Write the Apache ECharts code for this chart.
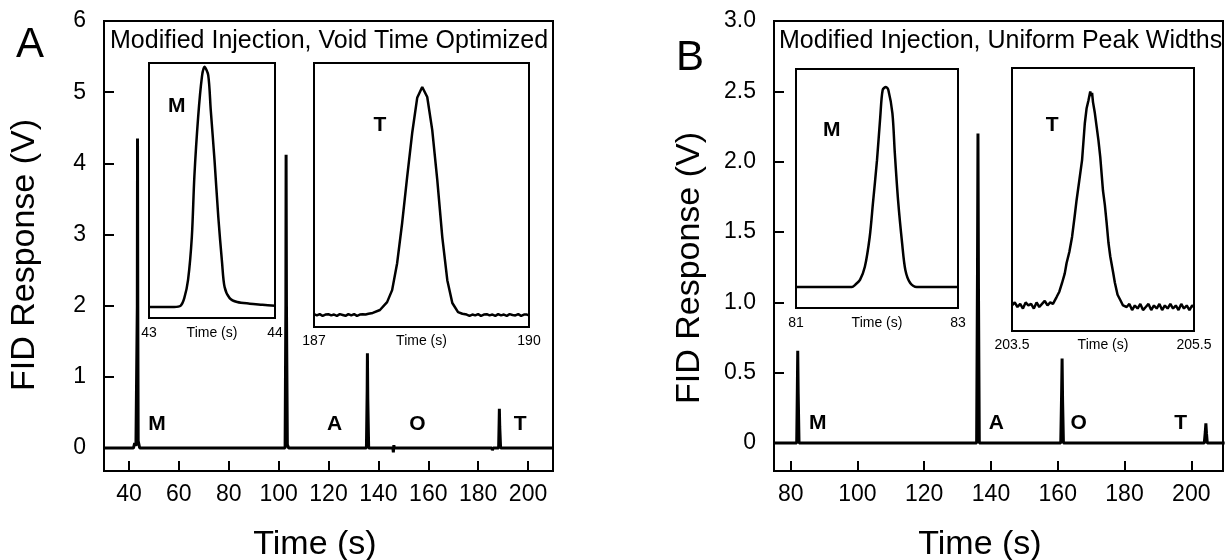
<!DOCTYPE html>
<html>
<head>
<meta charset="utf-8">
<script src="https://cdn.jsdelivr.net/npm/echarts@6/dist/echarts.min.js"></script>
<style>html,body{margin:0;padding:0;background:#fff}#c{width:1225px;height:560px}</style>
</head>
<body>
<div id="c"></div>
<script>
// ---------- Data (time in s, FID response in V) ----------
const aXTicks = [40, 60, 80, 100, 120, 140, 160, 180, 200];
const aYTicks = [0, 1, 2, 3, 4, 5, 6];
const bXTicks = [80, 100, 120, 140, 160, 180, 200];
const bYTicks = [0, 0.5, 1.0, 1.5, 2.0, 2.5, 3.0];

// Panel A main chromatogram
const aMain = [[30,0],[41.8,0],[42.3,0.07],[42.8,0.03],[43.2,0.05],[43.35,2.0],[43.44,4.35],[43.55,2.0],[43.7,0.1],[44.3,0],
  [102.6,0],[102.9,2.0],[103.0,4.12],[103.15,2.0],[103.5,0.05],[104,0],
  [135.2,0],[135.5,0.8],[135.6,1.33],[135.75,0.7],[136.1,0],
  [145.8,0],[146.0,-0.06],[146.2,0.04],[146.4,0],
  [185.5,0],[185.7,-0.03],[186,0],
  [188.2,0],[188.4,0.35],[188.5,0.55],[188.65,0.3],[189,0],[210,0]];
const aPeakLabels = [[51.2,0.34,'M'],[122.4,0.34,'A'],[155.6,0.34,'O'],[196.8,0.34,'T']];

// Panel A insets
const aInsetM = [[43.00,0.00],[43.10,0.00],[43.20,0.00],[43.25,0.02],[43.28,0.16],[43.31,0.49],[43.34,1.27],[43.36,2.36],[43.39,3.44],[43.42,4.17],[43.44,4.35],[43.47,4.20],[43.49,3.57],[43.52,2.66],[43.55,1.63],[43.58,0.80],[43.60,0.36],[43.64,0.16],[43.70,0.09],[43.80,0.06],[43.90,0.04],[44.00,0.02]];
const aInsetT = [[187.00,0.002],[187.04,-0.001],[187.08,0.002],[187.12,-0.002],[187.16,0.001],[187.20,0.002],[187.24,-0.001],[187.28,0.001],[187.32,-0.002],[187.36,0.002],[187.40,0.000],[187.44,-0.002],[187.48,0.002],[187.52,-0.001],[187.56,0.002],[187.60,-0.002],[187.64,0.001],[187.68,0.002],[187.72,0.001],[187.76,0.003],
  [187.82,0.005],[187.92,0.012],[188.02,0.031],[188.09,0.060],[188.16,0.125],[188.23,0.222],[188.30,0.333],[188.37,0.439],[188.44,0.524],[188.51,0.550],[188.58,0.526],[188.65,0.446],[188.72,0.326],[188.79,0.188],[188.86,0.084],[188.93,0.029],[189.01,0.007],[189.07,0.003],
  [189.13,0.001],[189.17,-0.002],[189.21,0.001],[189.25,-0.001],[189.29,0.002],[189.33,-0.002],[189.37,0.001],[189.41,0.002],[189.45,-0.001],[189.49,0.001],[189.53,-0.002],[189.57,0.002],[189.61,-0.001],[189.65,0.001],[189.69,-0.002],[189.73,0.002],[189.77,0.000],[189.81,-0.001],[189.85,0.002],[189.89,-0.002],[189.93,0.001],[189.97,0.001],[190.00,-0.001]];
const aInsetMLabel = [[43.22,3.63,'M']];
const aInsetTLabel = [[187.92,0.458,'T']];

// Panel B main chromatogram
const bMain = [[75,0],[81.8,0],[82.0,0.4],[82.11,0.655],[82.25,0.35],[82.5,0],
  [135.7,0],[135.95,1.2],[136.1,2.2],[136.25,1.1],[136.5,0],
  [160.9,0],[161.15,0.35],[161.3,0.6],[161.45,0.3],[161.7,0],
  [203.9,0],[204.2,0.08],[204.37,0.14],[204.55,0.07],[204.8,0],[210,0]];
const bPeakLabels = [[88.1,0.14,'M'],[141.6,0.14,'A'],[166.3,0.14,'O'],[196.8,0.14,'T']];

// Panel B insets
const bInsetM = [[81.00,0],[81.40,0],[81.69,0],[81.73,0.007],[81.79,0.023],[81.85,0.066],[81.91,0.164],[81.95,0.275],[82.00,0.416],[82.04,0.557],[82.07,0.646],[82.11,0.656],[82.14,0.646],[82.19,0.570],[82.22,0.439],[82.26,0.285],[82.31,0.144],[82.35,0.056],[82.41,0.013],[82.49,0],[82.70,0],[83.00,0]];
const bInsetT = [[203.50,0.001],[203.53,0.003],[203.56,0.000],[203.59,0.002],[203.62,-0.001],[203.65,0.003],[203.68,0.001],[203.71,0.002],[203.74,-0.001],[203.77,0.003],[203.80,0.000],[203.83,0.002],[203.86,0.004],[203.89,0.001],[203.92,0.003],[203.95,0.002],
  [203.99,0.0065],[204.02,0.010],[204.05,0.0157],[204.08,0.022],[204.10,0.0288],[204.13,0.036],[204.16,0.0458],[204.19,0.060],[204.21,0.070],[204.24,0.083],[204.27,0.0961],[204.30,0.120],[204.32,0.130],[204.34,0.135],[204.36,0.141],[204.37,0.138],[204.38,0.140],[204.39,0.134],[204.41,0.127],[204.43,0.118],[204.45,0.109],[204.47,0.098],[204.50,0.076],[204.52,0.067],[204.54,0.055],[204.56,0.042],[204.58,0.033],[204.61,0.023],[204.63,0.016],[204.66,0.008],[204.69,0.0046],[204.72,0.001],[204.76,0.000],
  [204.79,0.002],[204.82,-0.002],[204.85,0.001],[204.88,-0.001],[204.91,0.002],[204.94,-0.002],[204.97,0.000],[205.00,0.002],[205.03,-0.002],[205.06,0.001],[205.09,-0.001],[205.12,0.002],[205.15,-0.002],[205.18,0.001],[205.21,-0.001],[205.24,0.002],[205.27,-0.001],[205.30,0.001],[205.33,-0.002],[205.36,0.002],[205.39,-0.001],[205.42,0.001],[205.45,-0.002],[205.48,0.001],[205.50,0.000]];
const bInsetMLabel = [[81.44,0.515,'M']];
const bInsetTLabel = [[203.94,0.119,'T']];

// ---------- Styling ----------
const FONT = '"Liberation Sans", Arial, Helvetica, sans-serif';
const chart = echarts.init(document.getElementById('c'), null, {renderer: 'canvas'});

function mainX(grid, min, max, ticks) {
  return {gridIndex: grid, type: 'value', min, max,
    axisLine: {show: false, onZero: false}, splitLine: {show: false},
    axisTick: {show: true, inside: true, length: 10, customValues: ticks, lineStyle: {color: '#000', width: 2}},
    axisLabel: {customValues: ticks, color: '#000', fontSize: 23, fontFamily: FONT, margin: 12}};
}
function mainY(grid, min, max, ticks, fmt) {
  return {gridIndex: grid, type: 'value', min, max,
    axisLine: {show: false, onZero: false}, splitLine: {show: false},
    axisTick: {show: true, inside: true, length: 10, customValues: ticks, lineStyle: {color: '#000', width: 2}},
    axisLabel: {customValues: ticks, color: '#000', fontSize: 23, fontFamily: FONT, margin: 18, formatter: fmt}};
}
function insetX(grid, min, max, gap) {
  const mid = (min + max) / 2;
  return {gridIndex: grid, type: 'value', min, max,
    axisLine: {show: false, onZero: false}, splitLine: {show: false}, axisTick: {show: false},
    axisLabel: {customValues: [min, mid, max], color: '#000', fontSize: 14, fontFamily: FONT, margin: gap,
      formatter: v => (Math.abs(v - mid) < 1e-9 ? 'Time (s)' : String(v))}};
}
function insetY(grid, min, max) {
  return {gridIndex: grid, type: 'value', min, max, show: false, splitLine: {show: false}};
}
function line(xi, data, width, smooth) {
  return {type: 'line', xAxisIndex: xi, yAxisIndex: xi, data, showSymbol: false, symbol: 'none',
    smooth: smooth || false, lineStyle: {color: '#000', width}, silent: true, z: 3};
}
function labels(xi, data) {
  return {type: 'scatter', xAxisIndex: xi, yAxisIndex: xi, data, symbolSize: 0, silent: true, z: 4,
    itemStyle: {opacity: 1},
    label: {show: true, position: 'inside', formatter: p => p.value[2], color: '#000', opacity: 1,
      fontSize: 21, fontWeight: 'bold', fontFamily: FONT}};
}
function txt(text, x, y, size, opts) {
  return Object.assign({type: 'text', x, y, silent: true,
    style: Object.assign({text, font: size + 'px ' + FONT, fill: '#000',
      align: 'center', verticalAlign: 'middle', textAlign: 'center', textVerticalAlign: 'middle'}, (opts && opts.style) || {})},
    (opts && opts.el) || {});
}

const gridBox = {show: true, borderColor: '#000', borderWidth: 2};
const option = {
  animation: false,
  backgroundColor: '#fff',
  grid: [
    Object.assign({left: 104, top: 21, width: 449, height: 450, backgroundColor: 'rgba(0,0,0,0)'}, gridBox),
    Object.assign({left: 774, top: 21, width: 449, height: 450, backgroundColor: 'rgba(0,0,0,0)'}, gridBox),
    Object.assign({left: 149, top: 63, width: 126, height: 255, backgroundColor: '#fff'}, gridBox),
    Object.assign({left: 314, top: 63, width: 215, height: 264, backgroundColor: '#fff'}, gridBox),
    Object.assign({left: 796, top: 69, width: 162, height: 239, backgroundColor: '#fff'}, gridBox),
    Object.assign({left: 1012, top: 68, width: 182, height: 263, backgroundColor: '#fff'}, gridBox)
  ],
  xAxis: [
    mainX(0, 30, 210, aXTicks),
    mainX(1, 75, 209.5, bXTicks),
    insetX(2, 43, 44, 8),
    insetX(3, 187, 190, 7),
    insetX(4, 81, 83, 8),
    insetX(5, 203.5, 205.5, 7)
  ],
  yAxis: [
    mainY(0, -0.323, 6, aYTicks, v => String(v)),
    mainY(1, -0.199, 3, bYTicks, v => v === 0 ? '0' : v.toFixed(1)),
    insetY(2, -0.2, 4.42),
    insetY(3, -0.029, 0.608),
    insetY(4, -0.069, 0.715),
    insetY(5, -0.0157, 0.1563)
  ],
  series: [
    line(0, aMain, 3),
    labels(0, aPeakLabels),
    line(1, bMain, 3),
    labels(1, bPeakLabels),
    line(2, aInsetM, 2.5, 0.3),
    labels(2, aInsetMLabel),
    line(3, aInsetT, 2.5),
    labels(3, aInsetTLabel),
    line(4, bInsetM, 2.5, 0.3),
    labels(4, bInsetMLabel),
    line(5, bInsetT, 2.5),
    labels(5, bInsetTLabel)
  ],
  graphic: [
    txt('A', 30, 45, 42),
    txt('B', 690, 58, 42),
    txt('Modified Injection, Void Time Optimized', 110, 41, 25, {style: {align: 'left', textAlign: 'left'}}),
    txt('Modified Injection, Uniform Peak Widths', 779, 41, 25, {style: {align: 'left', textAlign: 'left'}}),
    txt('FID Response (V)', 25, 255, 34, {el: {rotation: Math.PI / 2}}),
    txt('FID Response (V)', 690, 268, 34, {el: {rotation: Math.PI / 2}}),
    txt('Time (s)', 315, 545, 34),
    txt('Time (s)', 980, 545, 34)
  ]
};
chart.setOption(option);
</script>
</body>
</html>
